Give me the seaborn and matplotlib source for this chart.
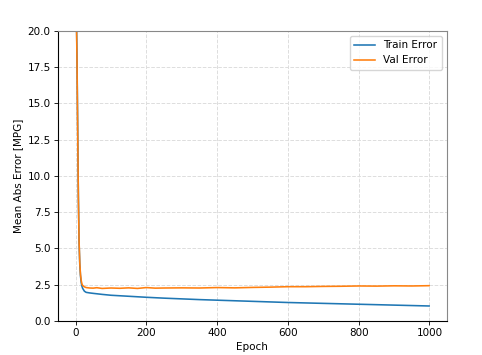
import matplotlib
matplotlib.use("Agg")
import matplotlib.pyplot as plt
import numpy as np
import pandas as pd
import seaborn as sns

# values (mean abs error in MPG per epoch)
train_epochs = [0, 2, 4, 6, 8, 10, 12, 14, 16, 18, 20, 25, 30, 40, 50, 75,
                100, 150, 200, 250, 300, 350, 400, 450, 500, 550, 600,
                650, 700, 750, 800, 850, 900, 950, 999]
train_err = [22.6, 21.8, 18.5, 13.5, 8.6, 5.4, 3.9, 3.1, 2.65, 2.4, 2.25,
             2.05, 1.97, 1.93, 1.90, 1.83, 1.77, 1.70, 1.63, 1.57, 1.52,
             1.47, 1.43, 1.39, 1.35, 1.31, 1.27, 1.24, 1.21, 1.18, 1.15,
             1.12, 1.09, 1.06, 1.03]

val_epochs = [0, 2, 4, 6, 8, 10, 12, 14, 16, 18, 20, 25, 30, 40, 50, 60,
              75, 100, 125, 150, 175, 200, 225, 250, 300, 350, 400, 450,
              500, 550, 600, 650, 700, 750, 800, 850, 900, 950, 999]
val_err = [22.4, 21.5, 18.2, 13.2, 8.5, 5.5, 4.0, 3.2, 2.8, 2.55, 2.45,
           2.35, 2.3, 2.27, 2.26, 2.29, 2.24, 2.27, 2.25, 2.28, 2.24,
           2.30, 2.26, 2.27, 2.28, 2.27, 2.30, 2.28, 2.31, 2.33, 2.36,
           2.36, 2.38, 2.39, 2.41, 2.40, 2.42, 2.41, 2.43]

FS = 7.5

fig = plt.figure(figsize=(4.82, 3.55), dpi=100)
ax = fig.add_axes([0.120, 0.096, 0.807, 0.817])

sns.lineplot(x=train_epochs, y=train_err, ax=ax, color="tab:blue",
             linewidth=1.15, label="Train Error")
sns.lineplot(x=val_epochs, y=val_err, ax=ax, color="tab:orange",
             linewidth=1.15, label="Val Error")

ax.set_xlim(-50, 1049)
ax.set_ylim(0, 20)
ax.set_yticks(np.arange(0, 20.1, 2.5))
ax.set_xlabel("Epoch", fontsize=FS, labelpad=2.5)
ax.set_ylabel("Mean Abs Error [MPG]", fontsize=FS, labelpad=3)
ax.tick_params(labelsize=FS, length=2.6, width=0.6, pad=2.6)
ax.grid(True, linestyle="--", color="#dddddd", linewidth=0.7)
ax.set_axisbelow(True)
for s in ax.spines.values():
    s.set_linewidth(0.8)
for s in ["top", "right"]:
    ax.spines[s].set_color("#888888")
ax.legend(loc="upper right", fontsize=FS)

fig.savefig("out.png", dpi=100, facecolor="white")
plt.close(fig)
